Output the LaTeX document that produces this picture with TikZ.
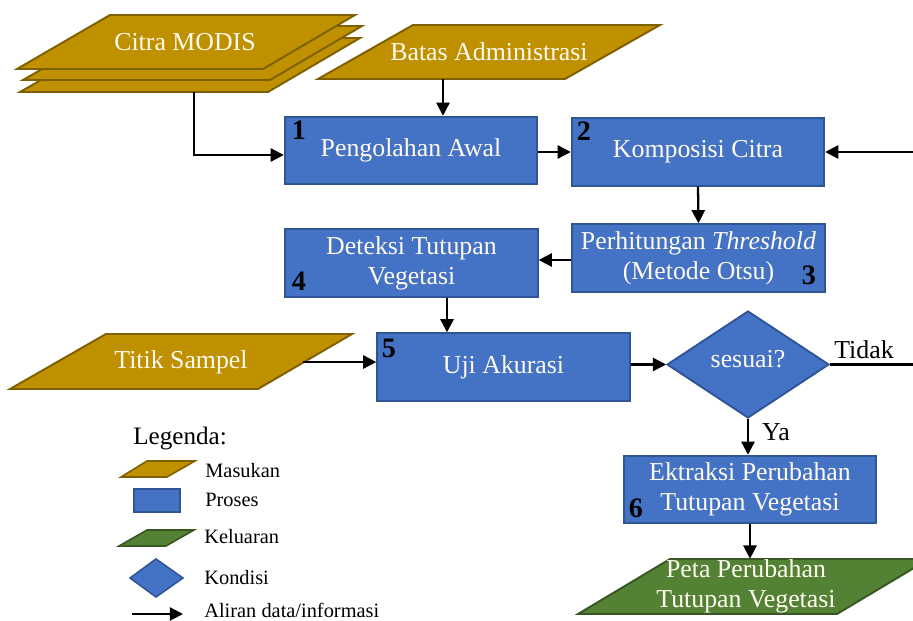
\documentclass[tikz,border=0pt]{standalone}
\usepackage{fontspec}
\setmainfont{Liberation Serif}
\usetikzlibrary{arrows.meta,shapes.geometric,calc}
\definecolor{goldF}{HTML}{BF9000}
\definecolor{goldD}{HTML}{7F6000}
\definecolor{blueF}{HTML}{4472C4}
\definecolor{blueD}{HTML}{2F5597}
\definecolor{greenF}{HTML}{548235}
\definecolor{greenD}{HTML}{385723}
\definecolor{cream}{HTML}{FFFAF0}
\begin{document}
\begin{tikzpicture}[x=0.02cm,y=-0.02cm,
  font=\fontsize{14.7}{17}\selectfont,
  proc/.style={draw=blueD,fill=blueF,line width=1.1pt,text=cream,align=center,inner sep=0pt,
    minimum width=5.05cm,minimum height=1.35cm},
  inp/.style={draw=goldD,fill=goldF,line width=1.1pt},
  outp/.style={draw=greenD,fill=greenF,line width=1.1pt},
  lbl/.style={text=cream,align=center,inner sep=0pt},
  num/.style={font=\fontsize{16}{17}\selectfont\bfseries,inner sep=0pt},
  leg/.style={font=\fontsize{11.6}{13}\selectfont,inner sep=0pt,anchor=west},
  arr/.style={line width=1.3pt,-{Triangle[length=7.5pt,width=7.5pt]}},
  plain/.style={line width=1.3pt}]
\useasboundingbox (0,0) rectangle (913,621);
\clip (0,0) rectangle (913,621);

% input stack: Citra MODIS
\draw[inp] (115,38)--(360,38)--(268,92)--(20,92)--cycle;
\draw[inp] (117,26)--(362,26)--(270,80)--(23,80)--cycle;
\draw[inp] (110,15)--(355,15)--(263,69)--(17,69)--cycle;
\node[lbl,minimum height=1.08cm] (cm) at (185,42) {Citra MODIS};
\coordinate (cmb) at (194,92);

% Batas Administrasi
\draw[inp] (413,25)--(660,25)--(565,79)--(318,79)--cycle;
\node[lbl,minimum height=1.08cm] (ba) at (489,52) {Batas Administrasi};
\coordinate (x443) at (443,0);

% process boxes
\node[proc] (pa) at (411,150.5) {Pengolahan Awal};
\node[proc] (kc) at (698,152) {Komposisi Citra};
\node[proc] (pt) at (698.5,258) {Perhitungan \textit{Threshold}\\(Metode Otsu)};
\node[proc] (dt) at (411.5,263) {Deteksi Tutupan\\Vegetasi};
\node[proc] (ua) at (503.5,367) {Uji Akurasi};
\node[proc] (ek) at (750,489.5) {Ektraksi Perubahan\\Tutupan Vegetasi};

\node[num] (n1) at (299,130) {1};
\node[num] (n2) at (584,131) {2};
\node[num] (n3) at (809,275) {3};
\node[num] (n4) at (299,281) {4};
\node[num] (n5) at (389,348) {5};
\node[num] (n6) at (636,508) {6};

% decision
\node[diamond,draw=blueD,fill=blueF,line width=1.1pt,text=cream,inner sep=0pt,
  minimum width=3.24cm,minimum height=2.14cm] (dm) at (748,364.5) {\raisebox{6pt}{sesuai?}};

% Titik Sampel
\draw[inp] (106,334)--(352,334)--(258,389)--(10,389)--cycle;
\node[lbl,minimum height=1.1cm] (ts) at (181,362) {Titik Sampel};
\coordinate (tse) at (303,362);

% output
\draw[outp] (670,559)--(929,559)--(837,614)--(578,614)--cycle;
\node[lbl,minimum height=1.1cm] (pp) at (746,586.5) {Peta Perubahan\\Tutupan Vegetasi};

% connectors
\coordinate (rin) at (913,152);
\coordinate (rout) at (913,364.5);
\coordinate (x447) at (447,0);
\draw[arr] (cmb) |- ($(pa.west)+(0,4.5)$);
\draw[arr] (ba.south -| x443) -- (pa.north -| x443);
\draw[arr] (pa.east |- kc.west) -- (kc.west);
\draw[arr] (rin) -- (kc.east);
\draw[arr] (kc.south) -- (pt.north);
\draw[arr] ($(pt.west)+(0,2)$) -- ($(pt.west -| dt.east)+(0,2)$);
\draw[arr] (dt.south -| x447) -- (ua.north -| x447);
\draw[arr] (tse) -- (tse -| ua.west);
\draw[arr] (ua.east |- dm.west) -- (dm.west);
\draw[plain] (dm.east) -- (rout);
\node[inner sep=0pt] (tidak) at (864,350) {Tidak};
\draw[arr] (dm.south) -- (dm.south |- ek.north);
\node[inner sep=0pt] (ya) at (776,432) {Ya};
\draw[arr] (ek.south) -- (ek.south |- pp.north);

% legend
\node[inner sep=0pt,anchor=west,font=\fontsize{14.3}{16}\selectfont] (lg) at (133,438) {Legenda:};
\draw[inp,line width=0.9pt] (147,461)--(195,461)--(167,477)--(121,477)--cycle;
\node[leg] (l1) at (205,471) {Masukan};
\draw[draw=blueD,fill=blueF,line width=1pt] (134,489) rectangle (180,512);
\node[leg] (l2) at (205,500) {Proses};
\draw[outp,line width=0.9pt] (147,530)--(194,530)--(166,546)--(119,546)--cycle;
\node[leg] (l3) at (204,537) {Keluaran};
\draw[draw=blueD,fill=blueF,line width=0.9pt] (130,578)--(156,559)--(183,578)--(156,597)--cycle;
\node[leg] (l4) at (204,578) {Kondisi};
\coordinate (la1) at (132,614);
\coordinate (la2) at (183,614);
\draw[arr] (la1) -- (la2);
\node[leg,anchor=base west] (l5) at (204,617) {Aliran data/informasi};
\end{tikzpicture}
\end{document}
